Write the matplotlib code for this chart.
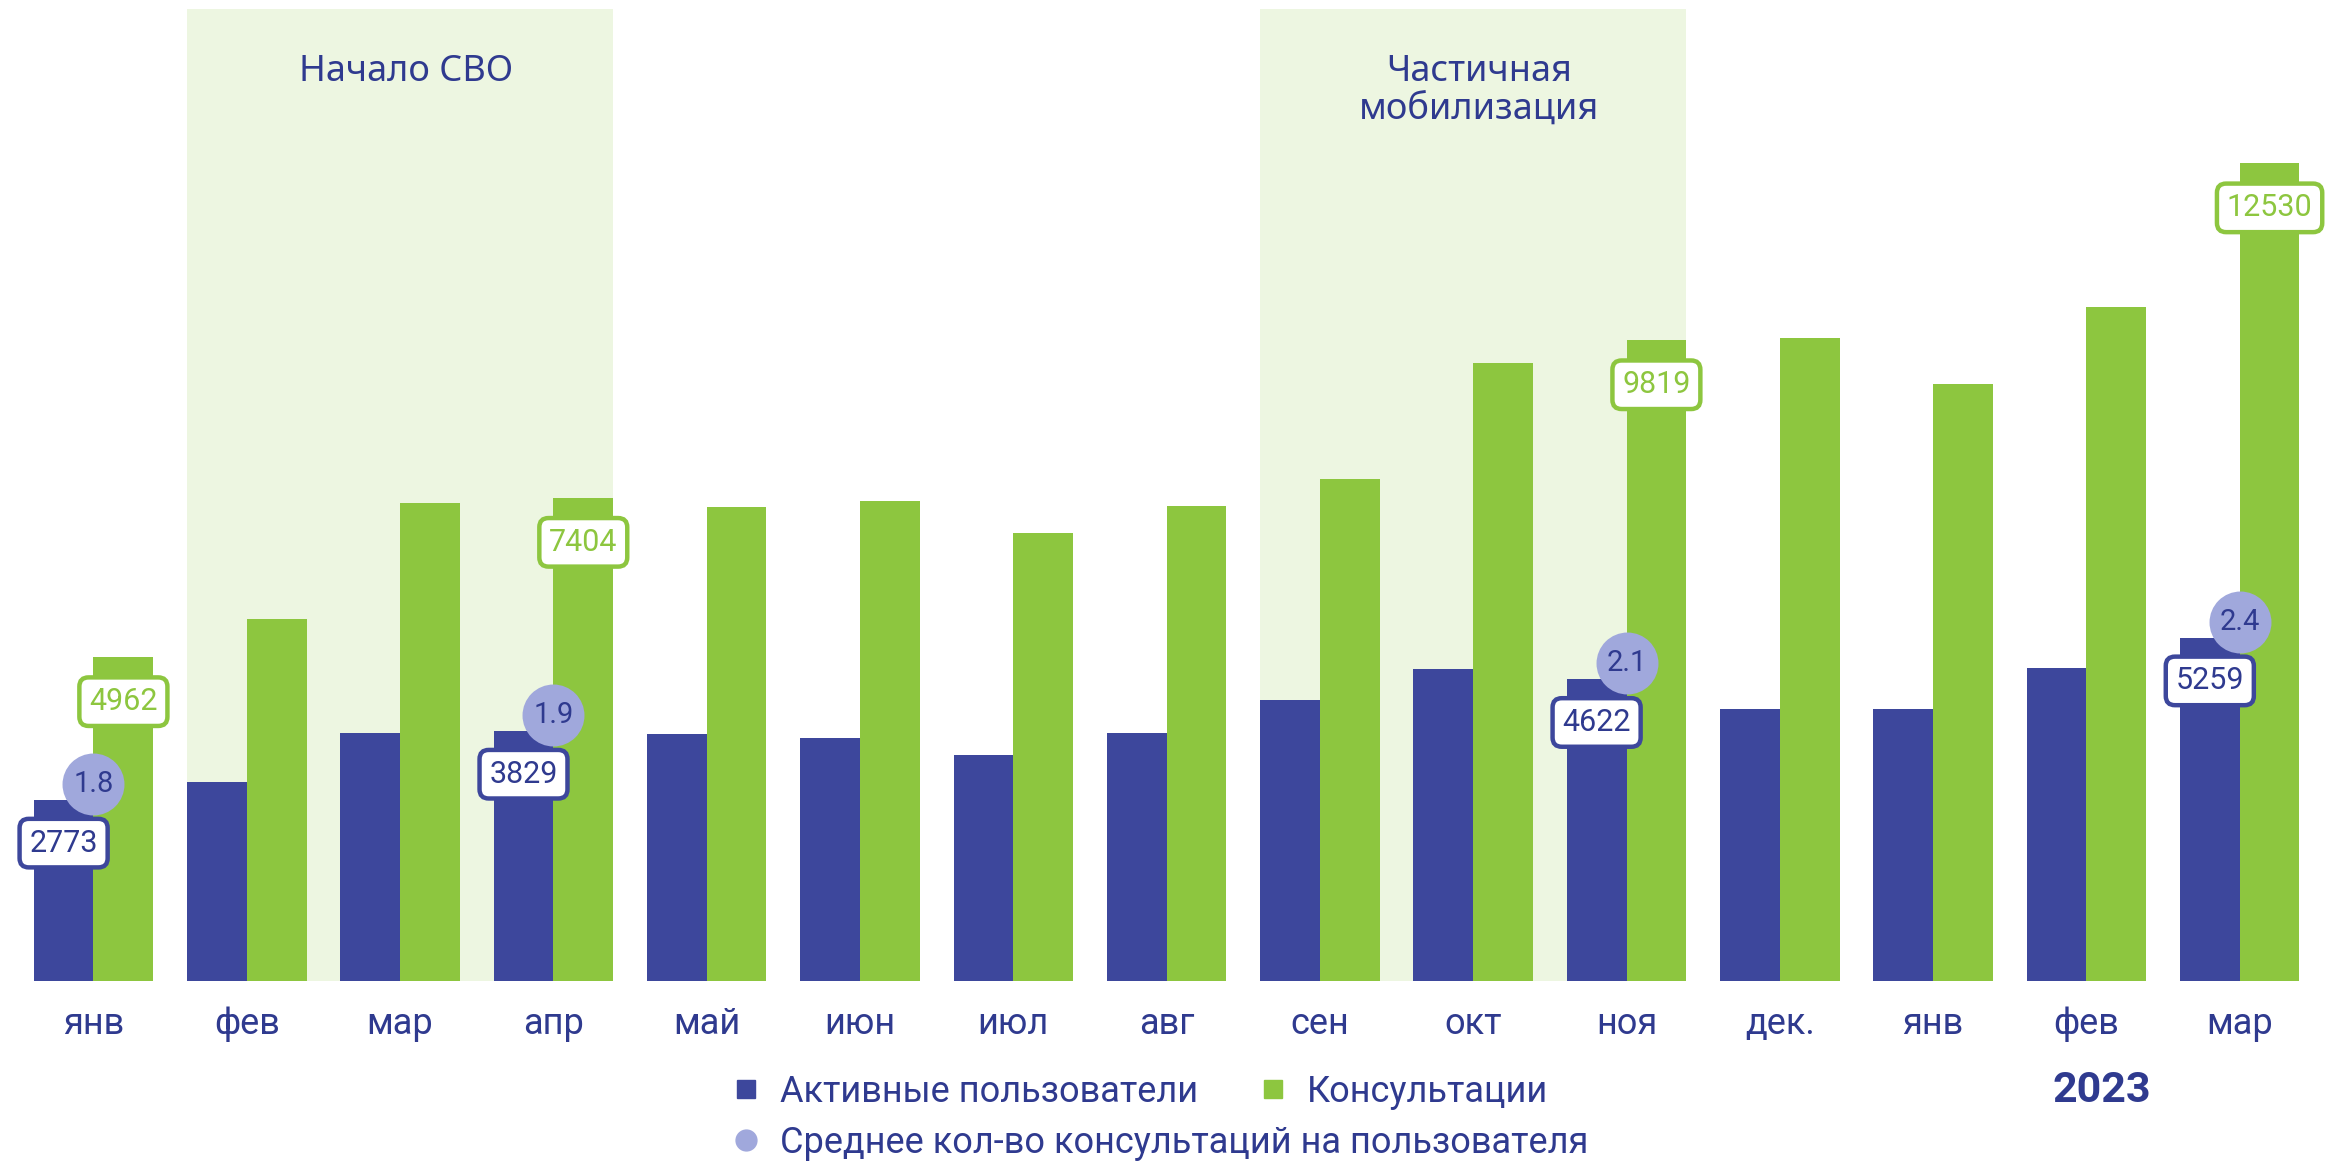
import numpy as np
import matplotlib
matplotlib.use("Agg")
import matplotlib.pyplot as plt
from matplotlib.lines import Line2D

plt.rcParams['font.family'] = ['Roboto', 'Noto Sans', 'DejaVu Sans']

months = ["янв", "фев", "мар", "апр", "май", "июн", "июл", "авг",
          "сен", "окт", "ноя", "дек.", "янв", "фев", "мар"]
users = [2773, 3050, 3800, 3829, 3780, 3730, 3460, 3800,
         4300, 4780, 4622, 4170, 4170, 4800, 5259]
consults = [4962, 5555, 7330, 7404, 7260, 7350, 6870, 7280,
            7690, 9470, 9819, 9860, 9150, 10330, 12530]
labeled = [0, 3, 10, 14]          # months with value boxes
avg_per_user = [1.8, 1.9, 2.1, 2.4]
events = [("Начало СВО", 1, 3), ("Частичная\nмобилизация", 8, 10)]

BLUE = "#3D479C"
GREEN = "#8DC63F"
SHADE = "#EDF6E1"
CIRCLE = "#A0A8DC"
TEXT = "#2F3A8F"

W, H = 2328, 1161
fig = plt.figure(figsize=(W / 100, H / 100), dpi=100)
base = 981
ax = fig.add_axes([0, (H - base) / H, 1, base / H])

x = np.arange(len(months))
bw = 0.39
ax.bar(x - bw / 2, users, bw, color=BLUE, zorder=2)
ax.bar(x + bw / 2, consults, bw, color=GREEN, zorder=2)

pitch = 153.3
ax.set_xlim(-93.5 / pitch, (W - 93.5) / pitch)
ax.set_ylim(0, base / 0.06525)

for name, a, b in events:
    ax.axvspan(a - bw, b + bw, ymin=0, ymax=1 - 9 / base, color=SHADE, lw=0, zorder=1)
    ax.text((a + b) / 2 + 0.04, (base - 54) / 0.06525, name, ha="center", va="top", fontsize=26,
            color=TEXT, linespacing=1.1, family=['Noto Sans', 'DejaVu Sans'])

box_kw = dict(ha="center", va="center", fontsize=22,
              textcoords="offset points", zorder=4)
for k, i in enumerate(labeled):
    ax.annotate(str(users[i]), (x[i] - bw / 2, users[i]), xytext=(0, -31),
                color=TEXT, bbox=dict(boxstyle="round,pad=0.32,rounding_size=0.3",
                                      fc="white", ec=BLUE, lw=3.2), **box_kw)
    ax.annotate(str(consults[i]), (x[i] + bw / 2, consults[i]), xytext=(0, -32),
                color=GREEN, bbox=dict(boxstyle="round,pad=0.32,rounding_size=0.3",
                                       fc="white", ec=GREEN, lw=3.2), **box_kw)
    cy = users[i] + 16 / 0.06525
    ax.scatter([x[i]], [cy], s=1990, color=CIRCLE, zorder=5, lw=0)
    ax.text(x[i], cy, f"{avg_per_user[k]:.1f}", ha="center", va="center",
            fontsize=21, color=TEXT, zorder=6)

ax.set_xticks(x)
ax.set_xticklabels(months, fontsize=26, color=TEXT)
ax.tick_params(axis="x", length=0, pad=18)
ax.set_yticks([])
for s in ax.spines.values():
    s.set_visible(False)

fig.text(2102 / W, 1 - 1090 / H, "2023", ha="center", va="center",
         fontsize=31, fontweight="bold", color=TEXT)

entries = [
    (Line2D([], [], marker="s", ls="", color=BLUE, markersize=13), "Активные пользователи", 728, 1092),
    (Line2D([], [], marker="s", ls="", color=GREEN, markersize=13), "Консультации", 1255, 1092),
    (Line2D([], [], marker="o", ls="", color=CIRCLE, markersize=15), "Среднее кол-во консультаций на пользователя", 728, 1143),
]
for h, lab, px, py in entries:
    leg = fig.legend([h], [lab], loc="center left", bbox_to_anchor=(px / W, 1 - py / H),
                     frameon=False, borderpad=0, borderaxespad=0, handlelength=1.0,
                     handletextpad=0.45, prop=dict(size=26))
    for t in leg.get_texts():
        t.set_color(TEXT)

fig.savefig("out.png", dpi=100)
